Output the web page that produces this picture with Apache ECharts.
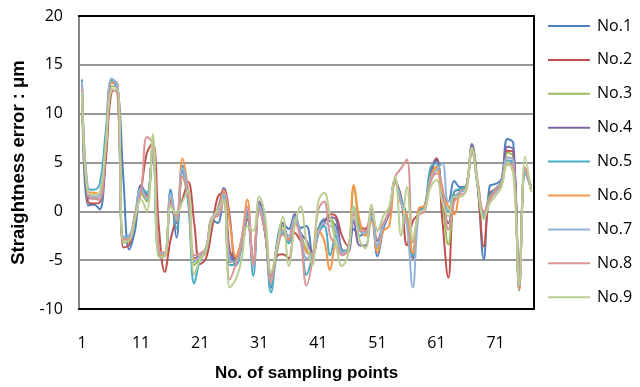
<!DOCTYPE html>
<html>
<head>
<meta charset="utf-8">
<script src="https://cdn.jsdelivr.net/npm/echarts@6/dist/echarts.min.js"></script>
<style>html,body{margin:0;padding:0;background:#fff;}#c{width:640px;height:387px;}</style>
</head>
<body>
<div id="c"></div>
<script>
const categories = ["1","2","3","4","5","6","7","8","9","10","11","12","13","14","15","16","17","18","19","20","21","22","23","24","25","26","27","28","29","30","31","32","33","34","35","36","37","38","39","40","41","42","43","44","45","46","47","48","49","50","51","52","53","54","55","56","57","58","59","60","61","62","63","64","65","66","67","68","69","70","71","72","73","74","75","76","77"];
const seriesNames = ["No.1","No.2","No.3","No.4","No.5","No.6","No.7","No.8","No.9"];
const yTicks = [-10, -5, 0, 5, 10, 15, 20];

const no1 = [13.5,0.6,0.7,0.2,5.5,13.5,13.0,3.5,-3.9,-1.9, 2.7,1.5,6.6,-4.5,-4.6,2.2,-2.7,4.7,1.5,-5.0, -4.6,-3.9,-0.9,-1.2,2.0,-4.5,-5.0,-3.5,-0.3,-5.5, 0.7,-2.0,-7.8,-3.2,-1.2,-1.8,-0.3,-1.7,-1.5,-4.3, -1.8,-0.8,-1.0,-1.5,-4.2,-4.0,-1.8,-2.5,-2.0,-0.8, -4.6,-1.8,0.0,3.2,1.3,-0.5,-4.6,0.0,0.5,4.0, 5.4,2.0,1.0,3.1,2.5,2.6,6.9,2.5,-4.9,2.6, 2.8,3.3,7.4,7.0,-7.5,4.3,2.5];
const no2 = [12.6,1.0,0.8,0.9,5.0,12.2,12.4,-3.7,-3.4,-0.6, 2.2,6.0,7.0,-1.5,-6.2,-2.9,-0.6,1.2,3.0,-1.2, -5.4,-4.8,-1.8,1.5,1.9,-4.0,-4.8,-3.8,-0.8,-5.6, 0.3,-2.3,-6.6,-4.6,-4.4,-4.8,-2.2,-3.0,-3.9,-4.5, -2.3,-1.2,-0.3,-0.5,-2.5,-3.5,-0.3,-1.5,-1.8,-0.2, -3.0,-1.5,-0.2,3.0,1.5,-3.5,-1.0,-0.3,0.2,4.0, 5.4,-1.0,-6.8,2.0,2.2,2.5,6.7,2.3,-3.6,1.8, 2.3,3.0,6.2,6.0,-7.2,4.2,2.3];
const no3 = [12.4,1.6,1.5,1.6,6.5,12.8,12.6,-3.2,-3.0,-0.8, 1.8,1.0,7.3,-4.4,-4.5,1.0,-1.0,3.5,1.0,-5.5, -4.8,-3.9,-0.8,-0.1,1.8,-5.2,-5.0,-3.2,-0.5,-5.3, 0.5,-1.8,-6.5,-4.0,-1.5,-2.8,-0.8,-2.2,-4.0,-4.4, -2.0,-1.0,-0.6,-2.5,-4.0,-4.0,2.5,-1.5,-2.5,-0.3, -3.8,-1.5,0.0,3.2,1.0,-0.8,-4.4,0.1,0.4,3.5, 4.5,1.0,-3.4,1.2,2.0,2.4,6.5,2.5,-0.6,1.5, 2.2,3.0,6.0,5.6,-7.5,4.5,2.2];
const no4 = [13.0,1.4,1.3,1.2,6.3,13.2,12.7,-2.8,-2.7,-0.6, 2.6,1.6,7.0,-4.3,-4.4,1.2,-1.2,4.0,1.2,-4.8, -4.6,-3.8,-0.7,0.3,2.4,-0.5,-5.6,-3.0,0.0,-5.4, 1.0,-1.5,-6.8,-3.8,-1.2,-3.0,-0.3,-2.2,-3.0,-4.2, -2.2,-1.0,-0.6,-0.8,-4.0,-4.2,-1.0,-3.5,-3.5,-0.3, -3.5,-1.6,-0.2,3.1,1.2,-1.0,-4.8,0.0,0.3,3.8, 5.2,1.5,-1.2,1.2,2.0,2.3,6.6,2.4,-0.3,1.3, 2.0,2.9,6.6,6.3,-7.3,4.4,2.6];
const no5 = [13.4,2.4,2.2,2.8,8.0,13.4,12.6,-2.6,-2.5,-0.2, 2.4,1.9,7.0,-4.3,-4.3,2.0,-1.8,4.2,0.8,-7.4, -5.0,-4.1,-1.0,-0.2,1.5,-5.5,-5.5,-3.6,-0.4,-6.6, 0.3,-2.2,-8.3,-4.2,-2.2,-3.3,-0.5,-2.5,-6.5,-4.6, -2.1,-1.5,-4.5,-2.5,-4.0,-4.0,0.5,-2.0,-2.2,-0.5, -3.5,-1.5,0.1,3.0,1.2,-1.0,-4.6,0.1,0.6,4.5, 4.9,2.0,0.0,2.0,2.3,2.5,6.3,2.7,-0.5,1.6, 2.3,3.0,5.2,5.0,-8.1,4.0,2.4];
const no6 = [12.8,2.0,1.9,1.8,6.8,13.2,13.0,-2.8,-2.7,-0.5, 2.1,1.4,7.2,-4.2,-4.6,1.3,-1.0,5.4,2.0,-4.9, -4.8,-4.0,-0.9,0.0,2.1,-1.0,-4.6,-2.8,1.2,-5.2, 0.4,-1.9,-6.7,-3.9,-1.9,-2.9,-0.8,-2.5,-4.2,-4.5, -2.0,-3.0,-6.0,-3.5,-4.2,-4.1,2.7,-1.0,-2.5,-1.0, -4.2,-2.0,-1.5,3.0,0.8,-0.5,-4.3,0.3,0.6,3.5, 4.6,2.0,0.5,-0.3,2.0,2.4,6.2,2.8,-0.4,1.4, 2.1,3.0,5.5,5.2,-8.0,4.5,2.2];
const no7 = [13.3,1.7,1.5,1.6,6.6,13.6,12.8,-2.7,-2.6,-0.4, 2.3,1.2,6.9,-4.1,-4.4,1.8,-0.8,4.5,1.8,-5.2, -4.5,-3.7,-0.8,-0.3,1.8,-5.0,-5.2,-3.0,0.2,-5.8, 0.6,-1.8,-7.0,-3.7,-2.0,-2.5,-0.6,-2.3,-4.8,-4.3, -2.2,-1.2,-1.5,-2.0,-4.3,-3.8,-0.8,-2.0,-2.2,-0.4, -3.6,-1.4,0.0,3.1,1.0,-1.5,-7.8,-0.2,0.3,3.3, 4.2,4.9,1.0,1.5,2.0,2.3,6.4,2.5,-0.4,1.2, 2.0,2.9,5.5,5.2,-7.6,4.3,2.3];
const no8 = [12.5,1.6,1.3,1.2,6.0,12.5,12.1,-2.9,-2.8,-0.3, 2.0,7.6,6.9,-4.0,-4.2,0.8,-0.5,3.6,1.5,-4.5, -4.3,-3.8,-0.6,-0.5,1.2,-7.0,-5.5,-3.3,0.5,-5.5, 0.0,-2.0,-7.3,-4.0,-2.4,-2.8,-1.2,-2.9,-7.6,-5.0, 0.2,1.0,-2.5,-3.5,-4.5,-4.0,-0.2,-2.0,-2.0,0.2, -2.0,-1.2,0.2,3.5,4.4,5.3,-3.2,-0.4,0.0,3.0, 3.9,2.5,-1.9,1.0,1.7,2.0,6.0,3.0,0.0,1.0, 2.2,2.7,4.8,4.5,-7.0,4.5,2.5];
const no9 = [12.2,1.9,1.7,1.9,6.5,12.4,12.5,-3.1,-3.0,-0.7, 1.2,0.0,7.9,-4.7,-4.6,0.5,-0.2,1.0,2.2,-6.5, -4.9,-4.0,-0.8,0.2,1.2,-7.8,-7.0,-5.0,-1.5,-2.0, 1.5,-0.5,-6.3,-3.6,-0.5,-5.6,-1.5,0.5,-3.2,-5.5, 1.0,1.9,-0.5,-3.5,-5.6,-4.5,0.5,-3.0,-3.8,0.7, -2.0,-0.5,0.5,3.6,-2.5,2.5,-3.0,-0.2,0.2,2.5, 3.2,1.0,-0.5,1.5,1.5,2.2,6.5,2.5,-0.8,0.8, 1.6,2.5,5.0,3.8,-7.4,5.6,2.0];

const seriesData = [no1, no2, no3, no4, no5, no6, no7, no8, no9];
const colors = ["#4F81BD","#C0504D","#9BBB59","#8064A2","#4BACC6","#F79646","#95B3D7","#D99694","#BACF93"];

const GRID = {left: 79, right: 106, top: 16, bottom: 76};
const W = 640, H = 387;

const chart = echarts.init(document.getElementById('c'), null, {renderer: 'canvas'});
const series = seriesNames.map((n, i) => ({
  name: n, type: 'line', data: seriesData[i], smooth: 0.4,
  symbol: 'none', showSymbol: false,
  lineStyle: {width: 2, color: colors[i]},
  itemStyle: {color: colors[i]}
}));
const option = {
  animation: false,
  color: colors,
  grid: {left: GRID.left, right: GRID.right, top: GRID.top, bottom: GRID.bottom, containLabel: false},
  // black frame line along the top of the plot area (Excel plot-area border)
  graphic: [{
    type: 'rect', z: 100, silent: true,
    left: GRID.left - 1, top: GRID.top - 1,
    shape: {width: W - GRID.left - GRID.right + 2, height: 2},
    style: {fill: '#000'}
  }],
  legend: {
    orient: 'vertical', left: 548, top: 17, padding: 0,
    icon: 'rect', itemWidth: 42, itemHeight: 2, itemGap: 15.9,
    textStyle: {fontSize: 16, lineHeight: 18, fontFamily: 'Open Sans', color: '#000', padding: [0,0,0,2]},
    data: seriesNames
  },
  xAxis: {
    type: 'category', data: categories, boundaryGap: true,
    axisLine: {onZero: false, lineStyle: {color: '#000', width: 2}},
    axisTick: {show: false},
    axisLabel: {interval: 9, color: '#000', fontSize: 16, fontFamily: 'Open Sans', margin: 26},
    name: 'No. of sampling points', nameLocation: 'middle', nameGap: 56,
    nameTextStyle: {fontWeight: 'bold', fontSize: 17, fontFamily: 'Liberation Sans', color: '#000'}
  },
  yAxis: [{
    type: 'value', min: yTicks[0], max: yTicks[yTicks.length-1], interval: 5,
    axisLine: {show: true, onZero: false, lineStyle: {color: '#868686', width: 2}},
    axisTick: {show: false},
    splitLine: {lineStyle: {color: '#979797', width: 2}},
    axisLabel: {color: '#000', fontSize: 16, fontFamily: 'Open Sans', margin: 16},
    name: 'Straightness error : μm', nameLocation: 'middle', nameGap: 45, nameRotate: 90,
    nameTextStyle: {fontWeight: 'bold', fontSize: 18.5, fontFamily: 'Liberation Sans', color: '#000'}
  }, {
    type: 'value', min: yTicks[0], max: yTicks[yTicks.length-1], interval: 5, position: 'right',
    axisLine: {show: true, onZero: false, lineStyle: {color: '#000', width: 2}},
    axisTick: {show: false}, axisLabel: {show: false}, splitLine: {show: false}
  }],
  series: series
};
chart.setOption(option);
</script>
</body>
</html>
